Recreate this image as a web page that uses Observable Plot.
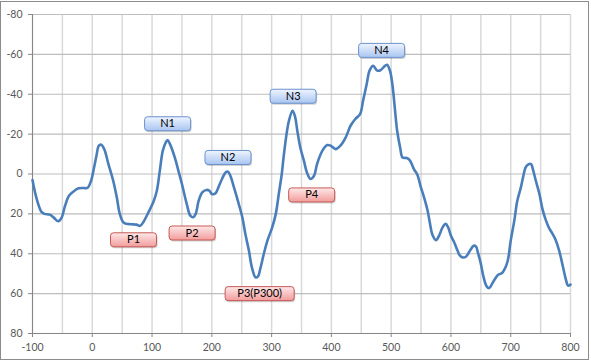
<!DOCTYPE html>
<html>
<head>
<meta charset="utf-8">
<script src="https://cdn.jsdelivr.net/npm/d3@7"></script>
<script src="https://cdn.jsdelivr.net/npm/@observablehq/plot@0.6"></script>
<style>
  html, body { margin: 0; padding: 0; background: #fff; }
  #wrap { position: relative; width: 591px; height: 361px; }
  #border { position: absolute; left: 0; top: 1px; width: 587px; height: 357px; border: 1px solid #8c8c8c; pointer-events: none; }
</style>
</head>
<body>
<div id="wrap"><div id="chart"></div><div id="border"></div></div>
<script>
// Waveform samples (ms, µV)
const times = [-100,-93,-85,-80,-71,-64,-57,-51,-46,-39,-32,-23,-15,-8,-2,3,7,11,15,20,27,35,41,46,52,57,65,74,80,85,94,102,108,113,118,123,126,130,138,144,150,158,164,169,173,178,184,191,196,200,206,211,217,223,227,231,237,245,251,256,262,267,273,277,281,287,293,301,307,312,317,320,325,329,335,339,343,348,354,359,365,371,376,385,393,399,407,415,424,432,440,448,453,459,464,470,476,482,488,493,498,502,506,510,515,519,526,531,538,544,549,555,561,565,569,575,580,586,591,595,600,605,611,614,619,625,632,638,642,645,650,654,660,664,669,675,679,685,690,695,700,706,711,717,720,725,729,734,737,742,748,753,759,764,770,775,781,787,792,796,800];
const amplitudes = [3,12.5,19,20,20.4,22,23.7,21.7,16.4,10.9,8.9,7.2,7,7,3.4,-3.3,-9.2,-14.2,-14.7,-12.5,-5,3.4,11.7,20,24.3,25,25.2,25.4,26,24.3,19.2,14.2,8.4,-1.7,-11.7,-15.9,-17,-15,-8.3,-1.7,5,15,20.9,21.7,20,13.4,9.2,8,8.4,10,9.7,6.7,2.5,-0.8,-1.2,0.9,6.7,15,21.7,30,38.4,46.8,51.8,51.5,47.6,40,33.4,26.8,20,10,0,-8.3,-20,-26.7,-31.7,-29,-21.7,-13.3,-6.7,-0.8,2.5,0.9,-5,-11.7,-14.5,-14.2,-12.5,-14.2,-18.4,-24.2,-27.6,-30,-36.7,-45,-52,-54.3,-52,-52,-53.8,-54.8,-51.8,-45,-33.4,-21.7,-13.3,-8.3,-8,-7,-2.5,0.5,6,11.7,18.4,25,30.5,33.2,31,26.8,25,26.5,31,34,38.4,40.5,41.8,41.5,38.4,36,36.4,39.3,45,51,56.5,57.2,55,52,50.5,49.8,47.6,43.5,33.4,23.4,13.4,6.7,2.5,-3.3,-4.7,-5,-2.5,3.4,10,17.5,23.4,27,30,33,38.4,46,52.6,56,55.5];

// Axis ticks
const xTicks = [-100,0,100,200,300,400,500,600,700,800];
const xMinorGrid = [-50,50,150,250,350,450,550,650,750];
const yTicks = [-80,-60,-40,-20,0,20,40,60,80];

// Component labels
const labelNames = ["N1","N2","N3","N4","P1","P2","P3(P300)","P4"];
const labelX = [126,227,336,484,69,167,280,367];
const labelY = [-25.2,-8.3,-39,-62,33,29.6,60,10.5];
const labelKind = ["N","N","N","N","P","P","P","P"];

const wave = times.map((t, i) => ({t, v: amplitudes[i]}));
const labels = labelNames.map((name, i) => ({name, x: labelX[i], y: labelY[i], kind: labelKind[i]}));

function boxedLabels(index, scales, values, dimensions, context, next) {
  const g = next(index, scales, values, dimensions, context);
  const sel = d3.select(g);
  const defs = sel.insert("defs", ":first-child");
  const mk = (id, top, bottom) => {
    const lg = defs.append("linearGradient").attr("id", id).attr("x1", 0).attr("y1", 0).attr("x2", 0).attr("y2", 1);
    lg.append("stop").attr("offset", "0%").attr("stop-color", top);
    lg.append("stop").attr("offset", "100%").attr("stop-color", bottom);
  };
  mk("gradN", "#eef4fe", "#a9c5f1");
  mk("gradP", "#fee8e8", "#f29c9b");
  const boxes = sel.insert("g", "text");
  for (const i of index) {
    const d = labels[i];
    const w = Math.max(46, d.name.length * 6.5 + 17);
    const h = 14;
    const cx = values.x[i], cy = values.y[i];
    boxes.append("rect").attr("x", cx - w / 2 + 1).attr("y", cy - h / 2 + 1.5).attr("width", w).attr("height", h)
      .attr("rx", 3).attr("fill", "rgba(0,0,0,0.18)");
    boxes.append("rect").attr("x", cx - w / 2).attr("y", cy - h / 2).attr("width", w).attr("height", h)
      .attr("rx", 3)
      .attr("fill", d.kind === "N" ? "url(#gradN)" : "url(#gradP)")
      .attr("stroke", d.kind === "N" ? "#6a91cc" : "#c55a57")
      .attr("stroke-width", 1);
  }
  return g;
}

const chart = Plot.plot({
  width: 591,
  height: 361,
  marginLeft: 32,
  marginRight: 21,
  marginTop: 14,
  marginBottom: 28,
  style: { fontFamily: "Lato, 'Open Sans', sans-serif", fontSize: "10.5px", color: "#595959", background: "#fff" },
  x: { domain: [-100, 800], label: null },
  y: { domain: [80, -80], label: null },
  marks: [
    Plot.gridX(xMinorGrid, { stroke: "#d9d9d9", strokeOpacity: 1, strokeWidth: 1.5 }),
    Plot.gridX(xTicks, { stroke: "#d9d9d9", strokeOpacity: 1, strokeWidth: 1.5 }),
    Plot.gridY(yTicks, { stroke: "#bdbdbd", strokeOpacity: 1, strokeWidth: 1.2 }),
    Plot.axisX(xTicks, { tickSize: 4, tickPadding: 6, stroke: "#868686", tickFormat: d => String(d), fill: "#595959" }),
    Plot.axisY(yTicks, { tickSize: 4, tickPadding: 6, stroke: "#868686", tickFormat: d => String(d), fill: "#595959" }),
    Plot.ruleX([-100], { stroke: "#868686", strokeWidth: 1 }),
    Plot.ruleY([80], { stroke: "#868686", strokeWidth: 1 }),
    Plot.line(wave, { x: "t", y: "v", stroke: "#4a7ebb", strokeWidth: 2.6, curve: "catmull-rom" }),
    Plot.text(labels, { x: "x", y: "y", text: "name", fill: "#000", fontSize: 11, fontFamily: "Lato, sans-serif", render: boxedLabels })
  ]
});
document.getElementById("chart").appendChild(chart);
</script>
</body>
</html>
